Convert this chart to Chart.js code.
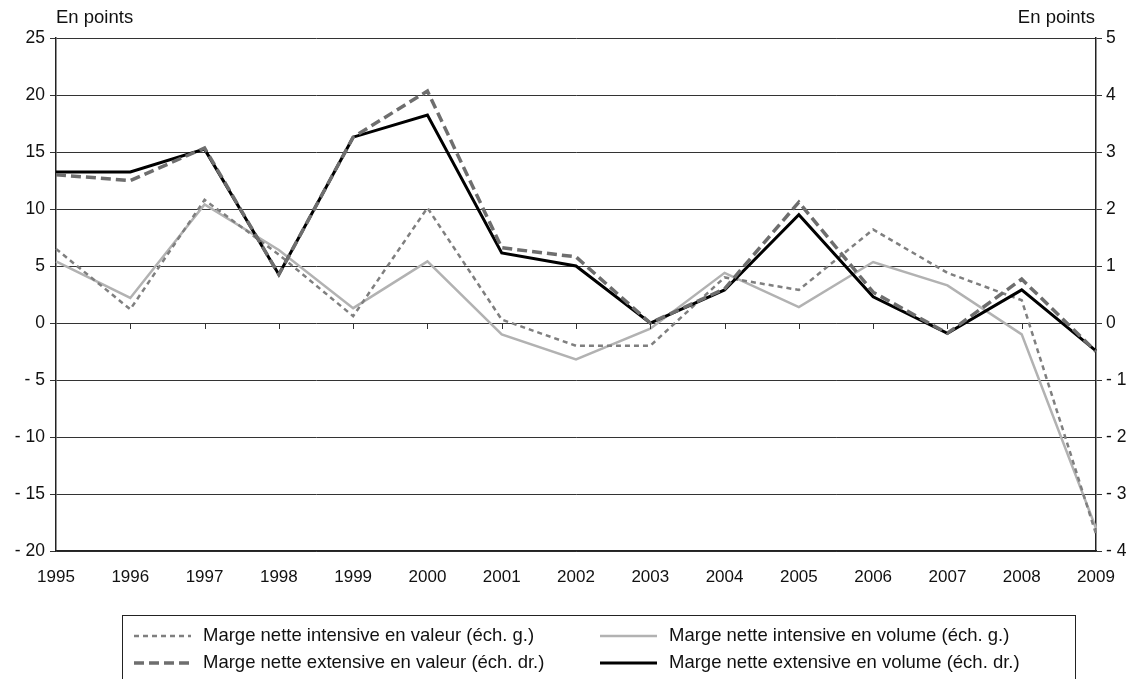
<!DOCTYPE html>
<html>
<head>
<meta charset="utf-8">
<script src="https://cdn.jsdelivr.net/npm/chart.js@4/dist/chart.umd.min.js"></script>
<style>
  html, body { margin: 0; padding: 0; background: #fff; }
  #wrap { width: 1133px; height: 679px; position: relative; }
</style>
</head>
<body>
<div id="wrap"><canvas id="chart" width="1133" height="679"></canvas></div>
<script>
// Données
const years = ["1995","1996","1997","1998","1999","2000","2001","2002","2003","2004","2005","2006","2007","2008","2009"];
// échelle de gauche
const intensiveValeur = [6.5, 1.2, 10.8, 6.0, 0.6, 10.1, 0.3, -2.0, -2.0, 4.0, 2.9, 8.2, 4.4, 2.0, -18.5];
const intensiveVolume = [5.4, 2.2, 10.4, 6.4, 1.3, 5.4, -1.0, -3.2, -0.5, 4.4, 1.4, 5.35, 3.3, -1.0, -18.0];
// échelle de droite
const extensiveValeur = [2.6, 2.5, 3.07, 0.85, 3.26, 4.07, 1.32, 1.16, 0.0, 0.6, 2.12, 0.54, -0.18, 0.77, -0.5];
const extensiveVolume = [2.65, 2.65, 3.05, 0.85, 3.26, 3.65, 1.23, 1.0, 0.0, 0.58, 1.9, 0.46, -0.18, 0.58, -0.49];

const leftTicks = [-20, -15, -10, -5, 0, 5, 10, 15, 20, 25];
const rightTicks = [-4, -3, -2, -1, 0, 1, 2, 3, 4, 5];

const FONT = "'Liberation Sans', Arial, sans-serif";

function fmt(v) {
    return v < 0 ? "- " + Math.abs(v) : String(v);
}

// Titres, petites graduations sur l'axe 0 et légende encadrée
const extras = {
    id: "extras",
    afterDraw(chart) {
        const ctx = chart.ctx;
        const area = chart.chartArea;
        const x = chart.scales.x;
        const y = chart.scales.y;
        ctx.save();
        ctx.font = "18.5px " + FONT;
        ctx.fillStyle = "#111";
        ctx.textBaseline = "middle";
        ctx.textAlign = "left";
        ctx.fillText("En points", area.left, 18);
        ctx.textAlign = "right";
        ctx.fillText("En points", area.right - 1, 18);

        // graduations de l'axe des abscisses sur la ligne 0
        const y0 = y.getPixelForValue(0);
        ctx.strokeStyle = "#333";
        ctx.lineWidth = 1;
        for (let i = 1; i < years.length - 1; i++) {
            const px = Math.round(x.getPixelForValue(i)) + 0.5;
            ctx.beginPath();
            ctx.moveTo(px, y0);
            ctx.lineTo(px, y0 + 6);
            ctx.stroke();
        }

        // légende
        ctx.strokeStyle = "#222";
        ctx.lineWidth = 1;
        ctx.strokeRect(122.5, 615.5, 953, 80);
        const items = [
            { ds: 0, x: 134, y: 636 },
            { ds: 1, x: 600, y: 636 },
            { ds: 2, x: 134, y: 663 },
            { ds: 3, x: 600, y: 663 }
        ];
        items.forEach(it => {
            const d = chart.data.datasets[it.ds];
            ctx.beginPath();
            ctx.setLineDash(d.borderDash || []);
            ctx.strokeStyle = d.borderColor;
            ctx.lineWidth = d.borderWidth;
            ctx.moveTo(it.x, it.y);
            ctx.lineTo(it.x + 57, it.y);
            ctx.stroke();
            ctx.setLineDash([]);
            ctx.fillStyle = "#111";
            ctx.textAlign = "left";
            ctx.fillText(d.label, it.x + 69, it.y);
        });
        ctx.restore();
    }
};

new Chart(document.getElementById("chart"), {
    type: "line",
    data: {
        labels: years,
        datasets: [
            {
                label: "Marge nette intensive en valeur (éch. g.)",
                data: intensiveValeur,
                yAxisID: "y",
                borderColor: "#7f7f7f",
                borderWidth: 2.5,
                borderDash: [5, 4],
                order: 2
            },
            {
                label: "Marge nette intensive en volume (éch. g.)",
                data: intensiveVolume,
                yAxisID: "y",
                borderColor: "#b2b2b2",
                borderWidth: 2.5,
                order: 3
            },
            {
                label: "Marge nette extensive en valeur (éch. dr.)",
                data: extensiveValeur,
                yAxisID: "y1",
                borderColor: "#6e6e6e",
                borderWidth: 3.5,
                borderDash: [10, 5],
                order: 0
            },
            {
                label: "Marge nette extensive en volume (éch. dr.)",
                data: extensiveVolume,
                yAxisID: "y1",
                borderColor: "#000",
                borderWidth: 3,
                order: 1
            }
        ]
    },
    options: {
        responsive: false,
        animation: false,
        events: [],
        elements: {
            point: { radius: 0 },
            line: { tension: 0, fill: false }
        },
        layout: { padding: { top: 38, bottom: 88, left: 0, right: 0 } },
        plugins: {
            legend: { display: false },
            tooltip: { enabled: false }
        },
        scales: {
            x: {
                type: "category",
                offset: false,
                grid: { display: false, drawTicks: false },
                border: { display: true, color: "#222", width: 1.5 },
                ticks: {
                    color: "#111",
                    font: { family: FONT, size: 17 },
                    padding: 16,
                    maxRotation: 0,
                    autoSkip: false
                },
                afterFit: s => { s.height = 40; }
            },
            y: {
                position: "left",
                min: -20,
                max: 25,
                afterBuildTicks: s => { s.ticks = leftTicks.map(v => ({ value: v })); },
                grid: { color: "#333", lineWidth: 1, tickLength: 6 },
                border: { display: true, color: "#222", width: 1.5 },
                ticks: {
                    color: "#111",
                    font: { family: FONT, size: 17.5 },
                    padding: 5,
                    callback: v => fmt(v)
                },
                afterFit: s => { s.width = 56; }
            },
            y1: {
                position: "right",
                min: -4,
                max: 5,
                afterBuildTicks: s => { s.ticks = rightTicks.map(v => ({ value: v })); },
                grid: { drawOnChartArea: false, color: "#333", tickLength: 6 },
                border: { display: true, color: "#222", width: 1.5 },
                ticks: {
                    color: "#111",
                    font: { family: FONT, size: 17.5 },
                    padding: 4,
                    callback: v => fmt(v)
                },
                afterFit: s => { s.width = 37; }
            }
        }
    },
    plugins: [extras]
});
</script>
</body>
</html>
